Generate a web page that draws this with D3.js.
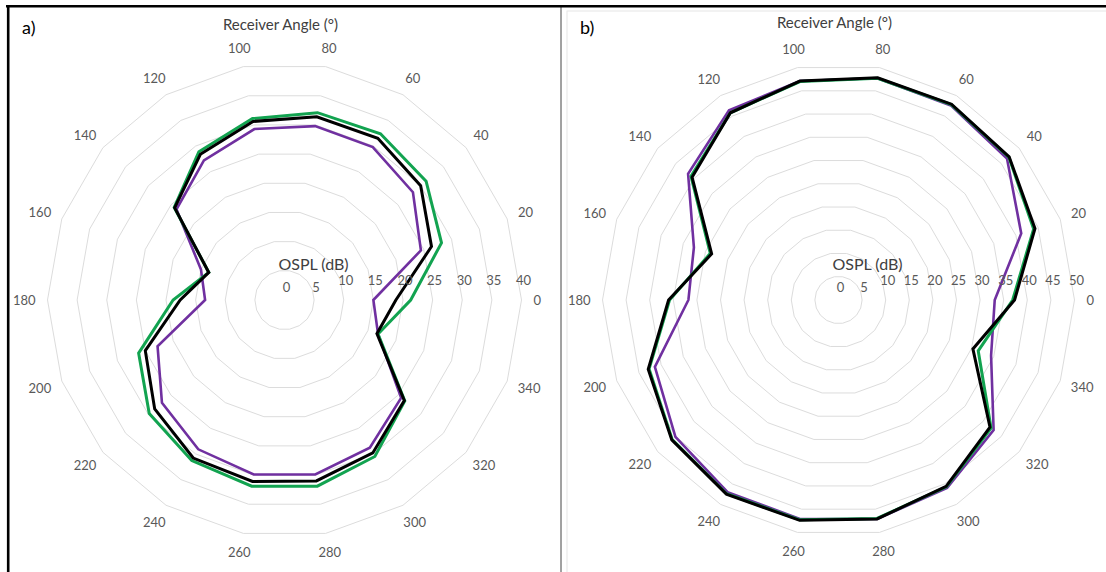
<!DOCTYPE html>
<html>
<head>
<meta charset="utf-8">
<script src="https://cdn.jsdelivr.net/npm/d3@7"></script>
<style>
  body { margin: 0; background: #fff; }
  svg { display: block; }
  text { font-family: Lato, "Open Sans", sans-serif; }
</style>
</head>
<body>
<svg id="chart" width="1106" height="572"></svg>
<script>
// Receiver angles (degrees), counter-clockwise from the right-hand side
const angles = [0, 20, 40, 60, 80, 100, 120, 140, 160, 180, 200, 220, 240, 260, 280, 300, 320, 340];

// Radial (OSPL) tick values for each panel
const ticksA = [0, 5, 10, 15, 20, 25, 30, 35, 40];
const ticksB = [0, 5, 10, 15, 20, 25, 30, 35, 40, 45, 50];

// Panel a) OSPL (dB) per receiver angle
const greenA  = [21.3, 28.2, 31.2, 32.4, 32.1, 31.1, 28.9, 24.3, 13.6, 18.8, 26.2, 29.8, 31.3, 31.9, 31.9, 30.5, 26.5, 16.8];
const blackA  = [18.8, 26.4, 30.0, 31.5, 31.4, 30.6, 28.4, 24.2, 13.6, 17.6, 25.0, 28.6, 30.8, 31.1, 31.0, 29.8, 26.4, 16.6];
const purpleA = [15.0, 24.5, 28.3, 29.8, 29.8, 29.3, 27.2, 23.8, 15.0, 13.4, 22.8, 27.0, 29.1, 29.9, 29.9, 28.8, 25.7, 16.8];

// Panel b) OSPL (dB) per receiver angle
const greenB  = [36.9, 44.0, 47.1, 47.8, 47.7, 47.0, 45.8, 40.8, 28.9, 35.8, 42.7, 46.0, 47.4, 47.3, 47.0, 45.7, 42.2, 31.5];
const blackB  = [37.3, 44.3, 47.2, 47.9, 47.8, 47.1, 45.8, 40.5, 28.6, 36.0, 42.9, 46.1, 47.5, 47.4, 47.1, 45.6, 41.9, 30.3];
const purpleB = [33.1, 41.2, 46.6, 47.6, 47.7, 47.1, 46.4, 41.6, 32.6, 31.8, 41.4, 45.1, 47.0, 47.1, 47.1, 46.0, 42.9, 34.4];

const COLORS = { green: "#12a350", black: "#000000", purple: "#7030a0" };
const GRID = "#dcdcdc";
const TEXT = "#595959";

const svg = d3.select("#chart");

// Frame lines of the figure
svg.append("rect").attr("x", 567).attr("y", 11).attr("width", 545).attr("height", 570)
  .attr("fill", "none").attr("stroke", "#e6e6e6").attr("stroke-width", 1);
svg.append("line").attr("x1", 561).attr("x2", 561).attr("y1", 6).attr("y2", 572)
  .attr("stroke", "#444").attr("stroke-width", 1);
svg.append("line").attr("x1", 6).attr("x2", 1106).attr("y1", 6.2).attr("y2", 6.2)
  .attr("stroke", "#000").attr("stroke-width", 2.6);
svg.append("line").attr("x1", 8.2).attr("x2", 8.2).attr("y1", 5).attr("y2", 572)
  .attr("stroke", "#000").attr("stroke-width", 2.6);

function drawPanel(cfg) {
  const g = svg.append("g").attr("transform", `translate(${cfg.cx},${cfg.cy})`);
  const maxV = d3.max(cfg.ticks);
  const r = d3.scaleLinear().domain([0, maxV]).range([0, cfg.R]);
  // lineRadial measures angles clockwise from 12 o'clock; receiver angles run counter-clockwise from 3 o'clock
  const a = d3.scaleLinear().domain([0, 360]).range([Math.PI / 2, Math.PI / 2 - 2 * Math.PI]);
  const radial = d3.lineRadial()
    .angle((d, i) => a(angles[i]))
    .radius(d => r(d))
    .curve(d3.curveLinearClosed);

  // concentric polygon gridlines
  g.append("g").selectAll("path")
    .data(cfg.ticks.filter(t => t > 0))
    .join("path")
    .attr("d", t => radial(angles.map(() => t)))
    .attr("fill", "none")
    .attr("stroke", GRID)
    .attr("stroke-width", 1);

  // series
  const series = [
    { values: cfg.purple, color: COLORS.purple, w: 2.6 },
    { values: cfg.green, color: COLORS.green, w: 3 },
    { values: cfg.black, color: COLORS.black, w: 3 }
  ];
  g.append("g").selectAll("path")
    .data(series)
    .join("path")
    .attr("d", s => radial(s.values))
    .attr("fill", "none")
    .attr("stroke", s => s.color)
    .attr("stroke-width", s => s.w)
    .attr("stroke-linejoin", "miter");

  // angle labels around the outside
  const pad = 12;
  g.append("g").selectAll("text")
    .data(angles)
    .join("text")
    .text(d => d)
    .attr("font-size", 13)
    .attr("fill", TEXT)
    .attr("text-anchor", "middle")
    .attr("dominant-baseline", "central")
    .each(function (d) {
      const th = d * Math.PI / 180;
      const hw = this.getComputedTextLength() / 2;
      const hh = 7;
      const x = (cfg.R + pad) * Math.cos(th) + hw * Math.cos(th);
      const y = -(cfg.R + pad) * Math.sin(th) - hh * Math.sin(th);
      d3.select(this).attr("x", x).attr("y", y);
    });

  // radial value labels along the 0° direction
  g.append("g").selectAll("text")
    .data(cfg.ticks)
    .join("text")
    .text(d => d)
    .attr("x", d => r(d) + 2)
    .attr("y", d => d < 10 ? -8 : -15)
    .attr("font-size", 13)
    .attr("fill", TEXT)
    .attr("text-anchor", "middle");

  // value axis title
  g.append("text")
    .text("OSPL (dB)")
    .attr("x", 29).attr("y", -30)
    .attr("font-size", 16)
    .attr("fill", "#404040")
    .attr("text-anchor", "middle");

  // angle axis title
  svg.append("text")
    .text("Receiver Angle (°)")
    .attr("x", cfg.cx - 4).attr("y", cfg.titleY)
    .attr("font-size", 15)
    .attr("fill", "#404040")
    .attr("text-anchor", "middle");

  // panel tag
  svg.append("text")
    .text(cfg.tag)
    .attr("x", cfg.tagX).attr("y", 34)
    .attr("font-size", 18)
    .attr("fill", "#000");
}

drawPanel({ cx: 284.5, cy: 300, R: 237, ticks: ticksA, green: greenA, black: blackA, purple: purpleA,
            titleY: 30, tag: "a)", tagX: 22 });
drawPanel({ cx: 838.5, cy: 300, R: 236, ticks: ticksB, green: greenB, black: blackB, purple: purpleB,
            titleY: 28, tag: "b)", tagX: 580 });
</script>
</body>
</html>
